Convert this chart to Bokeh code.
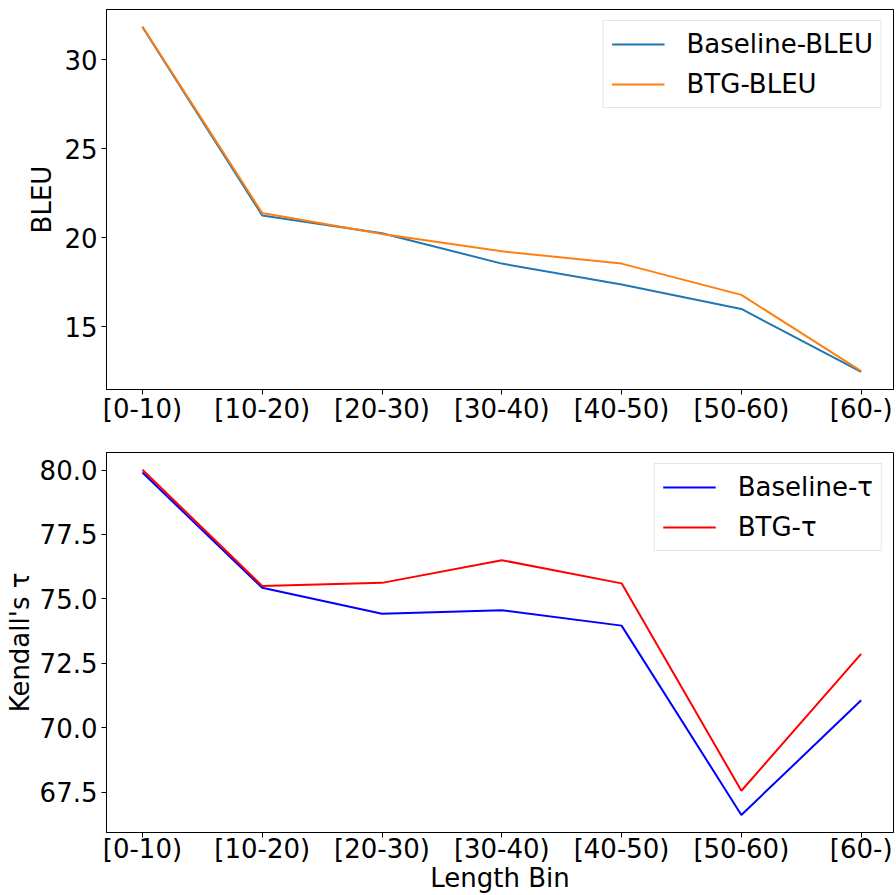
from bokeh.plotting import figure
from bokeh.layouts import column
from bokeh.models import FixedTicker, Range1d, PrintfTickFormatter
from bokeh.embed import file_html
from bokeh.resources import INLINE

bins = ["[0-10)", "[10-20)", "[20-30)", "[30-40)", "[40-50)", "[50-60)", "[60-)"]
baseline_bleu = [31.85, 21.25, 20.25, 18.54, 17.36, 15.99, 12.45]
btg_bleu = [31.87, 21.38, 20.20, 19.23, 18.54, 16.78, 12.49]
baseline_tau = [79.90, 75.43, 74.42, 74.56, 73.96, 66.61, 71.06]
btg_tau = [80.01, 75.50, 75.62, 76.50, 75.60, 67.55, 72.86]
bleu_ticks = [15, 20, 25, 30]
tau_ticks = [67.5, 70.0, 72.5, 75.0, 77.5, 80.0]

x = list(range(len(bins)))
FONT = "DejaVu Sans"
FS = "26px"


def style(p, yticks, ylabel, ylabel_standoff, xlabel_standoff, xlabel=None, yfmt=None):
    p.xgrid.visible = False
    p.ygrid.visible = False
    p.outline_line_color = "black"
    p.outline_line_width = 1
    p.xaxis.ticker = FixedTicker(ticks=x)
    p.xaxis.major_label_overrides = {i: b for i, b in enumerate(bins)}
    p.yaxis.ticker = FixedTicker(ticks=yticks)
    if yfmt:
        p.yaxis.formatter = PrintfTickFormatter(format=yfmt)
    for ax in (p.xaxis[0], p.yaxis[0]):
        ax.axis_line_color = "black"
        ax.major_tick_line_color = "black"
        ax.major_tick_out = 5
        ax.major_tick_in = 0
        ax.minor_tick_out = 0
        ax.minor_tick_in = 0
        ax.major_label_text_font = FONT
        ax.major_label_text_font_size = FS
        ax.major_label_text_color = "black"
        ax.axis_label_text_font = FONT
        ax.axis_label_text_font_size = FS
        ax.axis_label_text_font_style = "normal"
        ax.axis_label_text_color = "black"
    p.yaxis.major_label_standoff = 4
    p.yaxis.axis_label_standoff = ylabel_standoff
    p.yaxis.axis_label = ylabel
    p.xaxis.major_label_standoff = xlabel_standoff
    p.xaxis.axis_label_standoff = -4
    if xlabel:
        p.xaxis.axis_label = xlabel
    lg = p.legend[0]
    lg.location = "top_right"
    lg.margin = 11
    lg.padding = 8
    lg.spacing = 10
    lg.glyph_width = 53
    lg.glyph_height = 28
    lg.label_height = 28
    lg.label_standoff = 22
    lg.label_text_font = FONT
    lg.label_text_font_size = FS
    lg.label_text_color = "black"
    lg.border_line_color = "#cccccc"
    lg.border_line_width = 1
    lg.background_fill_alpha = 0.8


p1 = figure(width=896, height=440, output_backend="svg", toolbar_location=None,
            x_range=Range1d(-0.3, 6.27), y_range=Range1d(11.46, 32.83),
            min_border_left=106, min_border_right=3, min_border_top=9, min_border_bottom=51)
p1.line(x, baseline_bleu, line_color="#1f77b4", line_width=2, legend_label="Baseline-BLEU")
p1.line(x, btg_bleu, line_color="#ff7f0e", line_width=2, legend_label="BTG-BLEU")
style(p1, bleu_ticks, "BLEU", 4, -1)

p2 = figure(width=896, height=455, output_backend="svg", toolbar_location=None,
            x_range=Range1d(-0.3, 6.27), y_range=Range1d(65.93, 80.68),
            min_border_left=106, min_border_right=3, min_border_top=12, min_border_bottom=63)
p2.line(x, baseline_tau, line_color="blue", line_width=2, legend_label="Baseline-τ")
p2.line(x, btg_tau, line_color="red", line_width=2, legend_label="BTG-τ")
style(p2, tau_ticks, "Kendall's τ", 2, -4, xlabel="Length Bin", yfmt="%.1f")

layout = column(p1, p2, spacing=0)
open("out.html", "w").write(file_html(layout, INLINE))
